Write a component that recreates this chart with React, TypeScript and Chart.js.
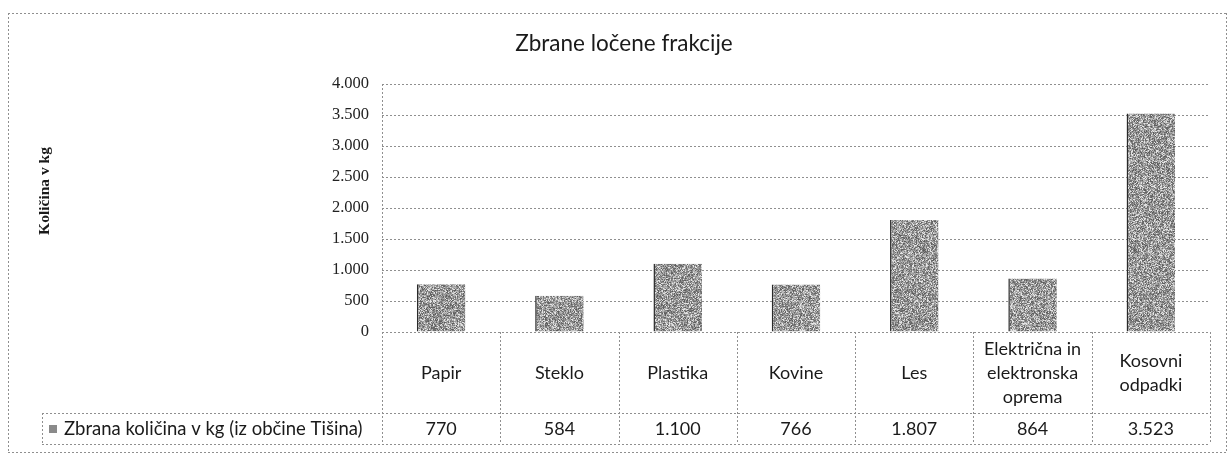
import React, { useEffect, useRef } from "react";
import { Chart, registerables } from "chart.js";

Chart.register(...registerables);

const chartTitle = "Zbrane ločene frakcije";
const yAxisTitle = "Količina v kg";
const seriesName = "Zbrana količina v kg (iz občine Tišina)";
const categories: string[][] = [
  ["Papir"],
  ["Steklo"],
  ["Plastika"],
  ["Kovine"],
  ["Les"],
  ["Električna in", "elektronska", "oprema"],
  ["Kosovni", "odpadki"],
];
const values: number[] = [770, 584, 1100, 766, 1807, 864, 3523];
const yMin = 0;
const yMax = 4000;
const yStep = 500;

const fmt = (n: number): string => {
  if (n >= 1000) {
    return `${Math.floor(n / 1000)}.${String(Math.round(n % 1000)).padStart(3, "0")}`;
  }
  return String(n);
};

const SANS = "Lato, 'Open Sans', sans-serif";
const SERIF = "'Liberation Serif', 'DejaVu Serif', serif";
const LINE = "#8f8f8f";

function makePattern(ctx: CanvasRenderingContext2D): CanvasPattern | string {
  const size = 211;
  const c = document.createElement("canvas");
  c.width = size;
  c.height = size;
  const g = c.getContext("2d");
  if (!g) return "#909090";
  const img = g.createImageData(size, size);
  for (let i = 0; i < size * size; i++) {
    let h = (i + 1) * 2654435761;
    h = (h ^ (h >>> 15)) >>> 0;
    h = Math.imul(h, 2246822519) >>> 0;
    h = (h ^ (h >>> 13)) >>> 0;
    const r = h % 1000;
    let v: number;
    if (r < 130) v = 228; // light speckle
    else v = 90 + (r % 110); // grey grain
    img.data[i * 4] = v;
    img.data[i * 4 + 1] = v;
    img.data[i * 4 + 2] = v;
    img.data[i * 4 + 3] = 255;
  }
  g.putImageData(img, 0, 0);
  return ctx.createPattern(c, "repeat") || "#909090";
}

const decorPlugin = {
  id: "decor",
  afterDraw(chart: any) {
    const ctx: CanvasRenderingContext2D = chart.ctx;
    const area = chart.chartArea;
    const xs = chart.scales.x;
    const n = categories.length;
    const cw = (area.right - area.left) / n;
    const rowTop = area.bottom;
    const rowMid = 413;
    const rowBot = 444;
    const legendLeft = 42;

    ctx.save();
    ctx.strokeStyle = LINE;
    ctx.lineWidth = 1;
    ctx.setLineDash([2, 2]);

    const hl = (x1: number, x2: number, y: number) => {
      ctx.beginPath();
      ctx.moveTo(x1, y + 0.5);
      ctx.lineTo(x2, y + 0.5);
      ctx.stroke();
    };
    const vl = (x: number, y1: number, y2: number) => {
      ctx.beginPath();
      ctx.moveTo(x + 0.5, y1);
      ctx.lineTo(x + 0.5, y2);
      ctx.stroke();
    };

    // outer border
    hl(8, 1226, 13);
    hl(8, 1226, 452);
    vl(8, 13, 452);
    vl(1226, 13, 452);

    // y axis line
    vl(Math.round(area.left), area.top, area.bottom);

    // table lines
    hl(area.left, area.right, rowTop);
    hl(legendLeft, area.right, rowMid);
    hl(legendLeft, area.right, rowBot);
    vl(legendLeft, rowMid, rowBot);
    for (let i = 0; i <= n; i++) {
      vl(Math.round(area.left + i * cw), rowTop, rowBot);
    }
    ctx.setLineDash([]);

    // category labels
    ctx.fillStyle = "#1a1a1a";
    ctx.textAlign = "center";
    ctx.textBaseline = "middle";
    ctx.font = `18px ${SANS}`;
    const lh = 24;
    categories.forEach((lines, i) => {
      const cx = xs.getPixelForValue(i);
      const cy = (rowTop + rowMid) / 2 + 1;
      const y0 = cy - ((lines.length - 1) * lh) / 2;
      lines.forEach((t, k) => ctx.fillText(t, cx, y0 + k * lh));
    });

    // values row
    ctx.font = `18px ${SANS}`;
    values.forEach((v, i) => {
      const cx = xs.getPixelForValue(i);
      ctx.fillText(fmt(v), cx, (rowMid + rowBot) / 2 + 1);
    });

    // legend cell
    ctx.fillStyle = "#8a8a8a";
    ctx.fillRect(49, 425, 8, 8);
    ctx.fillStyle = "#1a1a1a";
    ctx.textAlign = "left";
    ctx.font = `18.5px ${SANS}`;
    ctx.fillText(seriesName, 64, (rowMid + rowBot) / 2 + 1);

    // title
    ctx.textAlign = "center";
    ctx.font = `22.5px ${SANS}`;
    ctx.fillText(chartTitle, 624, 44);

    // y axis title
    ctx.save();
    ctx.translate(45, 191);
    ctx.rotate(-Math.PI / 2);
    ctx.font = `bold 15.5px ${SERIF}`;
    ctx.fillText(yAxisTitle, 0, 0);
    ctx.restore();

    ctx.restore();
  },
};

export default function App() {
  const ref = useRef<HTMLCanvasElement | null>(null);

  useEffect(() => {
    const canvas = ref.current;
    if (!canvas) return;
    const ctx = canvas.getContext("2d");
    if (!ctx) return;
    const pattern = makePattern(ctx);

    const chart = new Chart(canvas, {
      type: "bar",
      data: {
        labels: categories.map((c) => c.join(" ")),
        datasets: [
          {
            label: seriesName,
            data: values,
            backgroundColor: pattern as any,
            borderColor: "#2a2a2a",
            borderWidth: { left: 1.5, top: 0, right: 0, bottom: 0 } as any,
            borderSkipped: false,
            barPercentage: 0.41,
            categoryPercentage: 1,
          },
        ],
      },
      options: {
        responsive: false,
        animation: false,
        devicePixelRatio: 1,
        layout: { padding: { left: 0, right: 21, top: 84, bottom: 123 } },
        plugins: {
          legend: { display: false },
          title: { display: false },
          tooltip: { enabled: false },
        },
        scales: {
          x: { display: false },
          y: {
            min: yMin,
            max: yMax,
            afterFit: (s: any) => {
              s.width = 382;
            },
            ticks: {
              stepSize: yStep,
              padding: 13,
              color: "#222",
              font: { family: SERIF, size: 16.5 },
              callback: (v: any) => fmt(Number(v)),
            },
            grid: {
              drawTicks: false,
              color: LINE,
              lineWidth: 1,
            },
            border: { display: false, dash: [2, 2] },
          },
        },
      },
      plugins: [decorPlugin],
    });

    return () => chart.destroy();
  }, []);

  return (
    <div
      style={{
        position: "fixed",
        left: 0,
        top: 0,
        width: 1231,
        height: 455,
        background: "#fff",
      }}
    >
      <canvas ref={ref} width={1231} height={455} style={{ display: "block" }} />
    </div>
  );
}
